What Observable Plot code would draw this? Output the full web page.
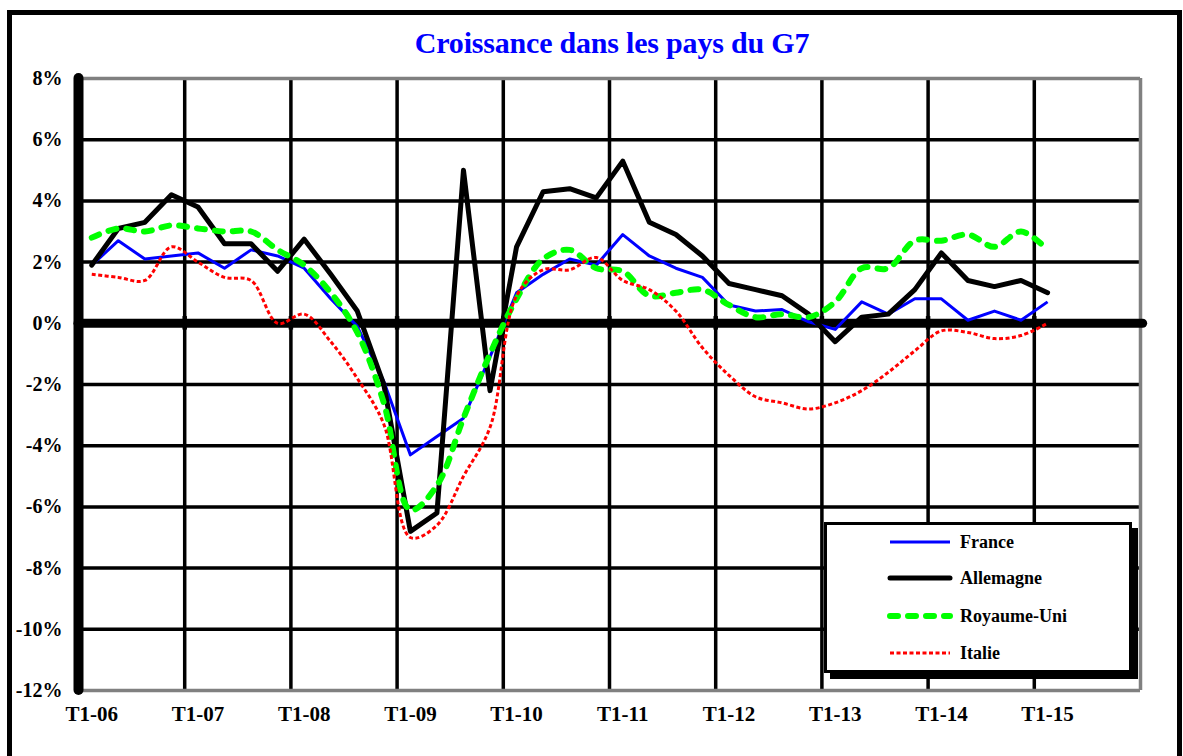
<!DOCTYPE html>
<html>
<head>
<meta charset="utf-8">
<script src="https://cdn.jsdelivr.net/npm/d3@7"></script>
<script src="https://cdn.jsdelivr.net/npm/@observablehq/plot@0.6"></script>
<style>
  html, body { margin: 0; padding: 0; background: #fff; overflow: hidden; }
  #wrap { position: relative; width: 1183px; height: 756px; overflow: hidden; font-family: "Liberation Serif", "DejaVu Serif", serif; }
  #frame { position: absolute; left: 7px; top: 10px; width: 1165px; height: 800px; border: 5px solid #000; border-bottom: none; box-sizing: content-box; }
  #chart { position: absolute; left: 0; top: 0; }
  #title { position: absolute; left: 312px; width: 600px; top: 28px; text-align: center; font-weight: bold; font-size: 30px; line-height: 30px; color: #0000FF; letter-spacing: -0.2px; }
  #legend { position: absolute; left: 824px; top: 522px; width: 302px; height: 145px; border: 3px solid #000; background: #fff; box-shadow: 6px 6px 0 #000; }
  .row { position: absolute; left: 60px; height: 20px; display: flex; align-items: center; }
  .row span { margin-left: 7px; font-weight: bold; font-size: 18px; color: #000; }
</style>
</head>
<body>
<div id="wrap">
  <div id="frame"></div>
  <div id="chart"></div>
  <div id="title">Croissance dans les pays du G7</div>
  <div id="legend"></div>
</div>
<script>
// ---- Data (year-on-year growth, %, quarterly T1-06 .. T1-15) ----
const quarterCount = 40; // T1-06 .. T4-15 category slots
const tickLabels = ["T1-06","T1-07","T1-08","T1-09","T1-10","T1-11","T1-12","T1-13","T1-14","T1-15"];
const yTicks = [8, 6, 4, 2, 0, -2, -4, -6, -8, -10, -12];
const seriesNames = ["France", "Allemagne", "Royaume-Uni", "Italie"];
const france  = [1.9,2.7,2.1,2.2,2.3,1.8,2.4,2.2,1.8,0.8,-0.1,-1.9,-4.3,-3.7,-3.1,-1.1,1.0,1.6,2.1,1.9,2.9,2.2,1.8,1.5,0.6,0.4,0.45,0.05,-0.2,0.7,0.3,0.8,0.8,0.1,0.4,0.1,0.7];
const allemagne = [1.9,3.1,3.3,4.2,3.8,2.6,2.6,1.7,2.75,1.6,0.4,-2.0,-6.8,-6.2,5.0,-2.2,2.5,4.3,4.4,4.1,5.3,3.3,2.9,2.2,1.3,1.1,0.9,0.3,-0.6,0.2,0.3,1.1,2.3,1.4,1.2,1.4,1.0];
const royaumeUni = [2.8,3.1,3.0,3.2,3.1,3.0,3.0,2.4,1.9,1.0,-0.3,-2.6,-6.1,-5.3,-3.1,-1.0,0.8,2.1,2.4,1.8,1.7,0.9,1.0,1.1,0.6,0.2,0.3,0.2,0.7,1.8,1.8,2.7,2.7,2.9,2.5,3.0,2.4];
const italie = [1.6,1.5,1.4,2.5,2.0,1.5,1.4,0.0,0.3,-0.6,-1.8,-3.3,-7.0,-6.6,-5.0,-3.4,0.9,1.75,1.75,2.15,1.4,1.1,0.4,-0.8,-1.7,-2.4,-2.6,-2.8,-2.6,-2.2,-1.6,-0.9,-0.25,-0.3,-0.5,-0.4,0.0];

const styles = {
  "France":      {stroke: "#0000FF", strokeWidth: 3, dash: null, cap: "butt", curve: "linear"},
  "Allemagne":   {stroke: "#000000", strokeWidth: 5, dash: null, cap: "round", curve: "linear"},
  "Royaume-Uni": {stroke: "#00FF00", strokeWidth: 6, dash: "8,10", cap: "round", curve: "catmull-rom"},
  "Italie":      {stroke: "#FF0000", strokeWidth: 3, dash: "4,2.5", cap: "butt", curve: "catmull-rom"}
};
const seriesValues = {"France": france, "Allemagne": allemagne, "Royaume-Uni": royaumeUni, "Italie": italie};

const toRows = (vals) => vals.map((v, i) => ({q: i + 0.5, v}));
const boundaries = d3.range(4, quarterCount, 4);
const tickRows = tickLabels.map((t, i) => ({q: i * 4 + 0.5, t}));
const gridY = yTicks.filter(d => d !== 8 && d !== -12 && d !== 0);

const font = "Liberation Serif";
const lineMarks = seriesNames.map(name => {
  const s = styles[name];
  return Plot.line(toRows(seriesValues[name]), {
    x: "q", y: "v", stroke: s.stroke, strokeWidth: s.strokeWidth,
    strokeDasharray: s.dash, strokeLinecap: s.cap, strokeLinejoin: "round", curve: s.curve
  });
});

const chart = Plot.plot({
  width: 1183, height: 756,
  marginLeft: 78, marginRight: 43, marginTop: 78, marginBottom: 66,
  style: {background: "transparent", overflow: "visible"},
  x: {type: "linear", domain: [0, quarterCount], axis: null},
  y: {type: "linear", domain: [-12, 8], axis: null},
  marks: [
    Plot.ruleY(gridY, {stroke: "#000", strokeWidth: 3.5}),
    Plot.ruleX(boundaries, {stroke: "#000", strokeWidth: 3.5}),
    Plot.ruleY([8, -12], {stroke: "#808080", strokeWidth: 3.5}),
    Plot.ruleX([quarterCount], {stroke: "#808080", strokeWidth: 3.5}),
    Plot.ruleX(boundaries, {y1: -0.22, y2: 0.22, stroke: "#000", strokeWidth: 4.5}),
    Plot.ruleY([0], {x1: 0, x2: quarterCount + 0.1, stroke: "#000", strokeWidth: 9, strokeLinecap: "round"}),
    Plot.ruleX([0], {stroke: "#000", strokeWidth: 10, strokeLinecap: "round"}),
    ...lineMarks,
    Plot.text(yTicks, {x: 0, y: d => d, text: d => d + "%", dx: -16, textAnchor: "end",
      fontFamily: font, fontWeight: "bold", fontSize: 20, fill: "#000"}),
    Plot.text(tickRows, {x: "q", y: -12, text: "t", dy: 24, lineAnchor: "middle",
      fontFamily: font, fontWeight: "bold", fontSize: 21, fill: "#000"})
  ]
});
document.getElementById("chart").appendChild(chart);

// ---- Legend ----
const legend = document.getElementById("legend");
const rowTops = [7, 43, 81, 118];
seriesNames.forEach((name, i) => {
  const s = styles[name];
  const row = document.createElement("div");
  row.className = "row";
  row.style.top = rowTops[i] + "px";
  const ns = "http://www.w3.org/2000/svg";
  const svg = document.createElementNS(ns, "svg");
  svg.setAttribute("width", 66); svg.setAttribute("height", 12);
  const ln = document.createElementNS(ns, "line");
  ln.setAttribute("x1", 3); ln.setAttribute("x2", 63);
  ln.setAttribute("y1", 6); ln.setAttribute("y2", 6);
  ln.setAttribute("stroke", s.stroke);
  ln.setAttribute("stroke-width", s.strokeWidth);
  if (s.dash) ln.setAttribute("stroke-dasharray", s.dash);
  ln.setAttribute("stroke-linecap", s.cap);
  svg.appendChild(ln);
  row.appendChild(svg);
  const sp = document.createElement("span");
  sp.textContent = name;
  row.appendChild(sp);
  legend.appendChild(row);
});
</script>
</body>
</html>
